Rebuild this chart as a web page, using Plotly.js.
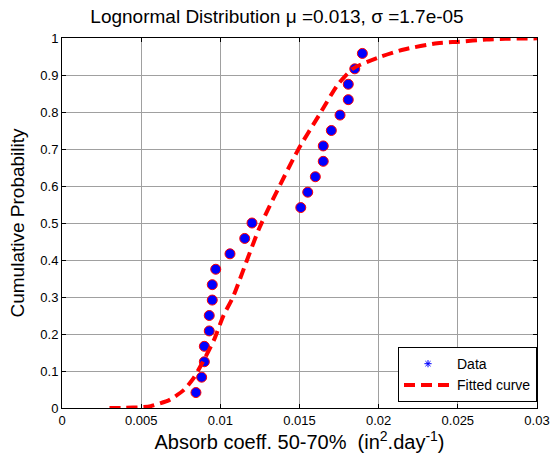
<!DOCTYPE html>
<html>
<head>
<meta charset="utf-8">
<script src="https://cdn.plot.ly/plotly-3.0.1.min.js"></script>
<style>html,body{margin:0;padding:0;background:#fff;}#chart{width:554px;height:464px;}</style>
</head>
<body>
<div id="chart"></div>
<script>
// Observed data (empirical CDF)
const dataX = [0.00846, 0.00882, 0.00899, 0.00899, 0.0093, 0.0093, 0.00949, 0.00949, 0.00971, 0.01061,
               0.01154, 0.0120, 0.01508, 0.01552, 0.0160, 0.0165, 0.0165, 0.01701, 0.01756, 0.01808,
               0.01808, 0.01849, 0.01897];
const dataY = [0.0417, 0.0833, 0.125, 0.1667, 0.2083, 0.25, 0.2917, 0.3333, 0.375, 0.4167,
               0.4583, 0.5, 0.5417, 0.5833, 0.625, 0.6667, 0.7083, 0.75, 0.7917, 0.8333,
               0.875, 0.9167, 0.9583];
// Fitted curve
const curveX = [0.003, 0.004, 0.005, 0.0056, 0.0068, 0.0077, 0.0083, 0.0089, 0.0096, 0.0102, 0.0108,
                0.0125, 0.0149, 0.0163, 0.0174, 0.0184, 0.0201, 0.0216, 0.0237, 0.0251, 0.0268, 0.028, 0.03];
const curveY = [0, 0.0005, 0.002, 0.005, 0.022, 0.049, 0.080, 0.125, 0.184, 0.25, 0.30,
                0.49, 0.697, 0.796, 0.873, 0.918, 0.949, 0.969, 0.986, 0.99, 0.996, 0.998, 0.999];
const xTicks = [0, 0.005, 0.01, 0.015, 0.02, 0.025, 0.03];
const xTickText = ['0', '0.005', '0.01', '0.015', '0.02', '0.025', '0.03'];
const yTicks = [0, 0.1, 0.2, 0.3, 0.4, 0.5, 0.6, 0.7, 0.8, 0.9, 1];
const yTickText = ['0', '0.1', '0.2', '0.3', '0.4', '0.5', '0.6', '0.7', '0.8', '0.9', '1'];

const font = 'Liberation Sans, Arial, sans-serif';

const traces = [
  {
    x: dataX, y: dataY, type: 'scatter', mode: 'markers', showlegend: false,
    marker: {symbol: 'circle', size: 10, color: '#0000ff', line: {color: '#ff0000', width: 1}},
    hoverinfo: 'skip'
  },
  {
    x: dataX, y: dataY, type: 'scatter', mode: 'markers', name: 'Data',
    marker: {symbol: 'asterisk-open', size: 6, color: '#0000ff', line: {color: '#0000ff', width: 1}}
  },
  {
    x: curveX, y: curveY, type: 'scatter', mode: 'lines', name: 'Fitted curve',
    line: {color: '#ff0000', width: 4, dash: '11px,6px', shape: 'spline', smoothing: 0.6}
  }
];

const axisCommon = {
  showline: true, linecolor: '#000', linewidth: 1, mirror: 'ticks',
  ticks: 'inside', ticklen: 4, tickcolor: '#000',
  showgrid: true, gridcolor: '#a0a0a0', gridwidth: 1, griddash: 'solid',
  zeroline: false, tickfont: {family: font, size: 13, color: '#000'}
};

const layout = {
  width: 554, height: 464,
  margin: {l: 62, r: 17, t: 38, b: 56},
  paper_bgcolor: '#fff', plot_bgcolor: '#fff',
  font: {family: font, color: '#000'},
  title: {text: 'Lognormal Distribution μ =0.013, σ =1.7e-05', font: {family: font, size: 19, color: '#000'},
          x: 0.5, xanchor: 'center', y: 0.965, yanchor: 'middle'},
  xaxis: Object.assign({}, axisCommon, {
    range: [0, 0.03], tickvals: xTicks, ticktext: xTickText,
    title: {text: 'Absorb coeff. 50-70%  (in<sup>2</sup>.day<sup>-1</sup>)', font: {family: font, size: 20, color: '#000'}, standoff: 8}
  }),
  yaxis: Object.assign({}, axisCommon, {
    range: [0, 1], tickvals: yTicks, ticktext: yTickText,
    title: {text: 'Cumulative Probability', font: {family: font, size: 19, color: '#000'}, standoff: 10}
  }),
  legend: {
    x: 1, xanchor: 'right', y: 0.016, yanchor: 'bottom',
    bgcolor: '#fff', bordercolor: '#000', borderwidth: 1,
    font: {family: font, size: 14, color: '#000'},
    tracegroupgap: 0, itemwidth: 48
  },
  showlegend: true
};

Plotly.newPlot('chart', traces, layout, {displayModeBar: false, staticPlot: true});
</script>
</body>
</html>
